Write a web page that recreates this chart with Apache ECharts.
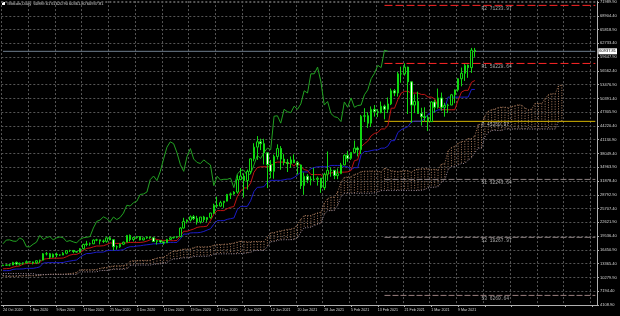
<!DOCTYPE html>
<html><head><meta charset="utf-8">
<script src="https://cdn.jsdelivr.net/npm/echarts@6/dist/echarts.min.js"></script>
<style>html,body{margin:0;padding:0;background:#000}#c{width:620px;height:316px}</style>
</head><body><div id="c"></div><script>
// ---------- data ----------
const startDate = [2020, 9, 24];          // 24 Oct 2020 (month 0-based)
const totalBars = 178;                     // bars visible incl. right shift
const lastLabelBar = 141;                  // no date labels past the last real bar
const titleText = '#Bitcoin,Daily  60989.61 61620.90 60361.80 60937.81';
const lastPrice = 60937.81;

const priceTicks = [4108.90, 7194.40, 10279.90, 13365.40, 16450.90, 19536.40, 22621.90, 25707.40,
  28792.90, 31878.40, 34963.90, 38049.40, 41134.90, 44220.40, 47305.90, 50391.40, 53476.90,
  56562.40, 59647.90, 62733.40, 65818.90, 68904.40];

const opens = [12930,13030,13070,13070,13650,13270,13450,13560,13800,13760,
13550,14030,14150,15590,15580,14830,15480,15330,15300,15700,
16290,16330,16070,15960,16730,17660,17800,17820,18660,18700,
18420,18370,19150,18740,17160,17140,17730,18180,19700,18770,
19220,19440,18690,19150,19360,19170,18330,18550,18250,18030,
18810,19170,19270,19440,21350,22830,23140,23860,23480,22740,
23820,23250,23720,24700,26460,26270,27040,27370,28880,28990,
29410,32200,33000,31990,34040,36860,39480,40670,40240,38200,
35550,34050,37390,39150,36800,36050,35800,36620,36000,35480,
30850,32950,32100,32280,32260,32520,30400,33400,34270,34300,
33100,33530,35500,37660,36950,38290,39250,38900,46400,46500,
44850,47950,47400,47200,48650,47950,49150,52100,51600,55900,
55900,57400,54100,48900,49700,47000,46300,46100,45200,49600,
48400,50500,48400,48800,48900,51200,52300,54800,56000,57800,
57300,61200];
const highs = [13150,13180,13250,13780,13840,13620,13660,14090,13900,13820,
14060,14250,15750,15970,15770,15650,15850,15450,15960,16330,
16480,16340,16140,16880,17850,18480,18110,18800,18950,18700,
18770,19400,19490,18900,17460,17890,18320,19800,19920,19300,
19570,19520,19170,19420,19400,19270,18650,18560,18270,18930,
19400,19330,19540,21540,23650,23260,24170,24260,24080,23820,
24080,23790,24770,26800,28400,27450,27370,28990,29300,29600,
33300,34800,33600,34450,36940,40350,41950,41360,41350,38260,
36600,37800,40100,39700,37900,36800,37400,37850,36400,35600,
33800,33450,32950,34850,32900,32540,33750,38500,34900,34300,
34700,35950,37850,38650,38300,40950,39600,46700,48200,47300,
48600,48900,48000,49700,49000,50600,52600,52500,56300,57500,
58260,57500,54200,51300,51900,48300,48400,46600,49800,50100,
52600,51700,49400,49200,51400,52400,54900,57300,58100,58000,
61700,61700];
const lows = [12890,12900,12800,13050,12950,12980,13130,13440,13620,13210,
13290,13530,14090,15210,14420,14710,14830,15090,15280,15460,
15990,15710,15820,15900,16560,17270,17380,17760,18410,17680,
18010,18080,18610,16330,16500,16910,17530,18180,18330,18360,
18940,18580,18580,18920,18920,18220,17650,17940,17610,18010,
18730,19000,19060,19300,21240,22370,22800,23130,22120,22380,
22700,22720,23430,24500,25850,26120,25890,27330,27850,28800,
29050,32050,28200,29950,33400,36300,36620,38800,35600,30300,
32500,32400,36700,34400,35400,33900,34800,35900,33400,30100,
28800,31400,30900,31900,30850,29240,29850,31950,32850,32300,
32300,33430,35400,36200,36600,38150,37400,37950,45100,43800,
44000,46300,46200,47050,45700,47100,48900,50900,50800,53900,
55500,46900,44900,47100,47000,44300,45100,43100,45100,47200,
48100,47600,46300,47100,48900,49300,51900,53100,54300,55000,
56100,59700];
const closes = [13030,13070,13070,13650,13270,13450,13560,13800,13760,13550,
14030,14150,15590,15580,14830,15480,15330,15300,15700,16290,
16330,16070,15960,16730,17660,17800,17820,18660,18700,18420,
18370,19150,18740,17160,17140,17730,18180,19700,18770,19220,
19440,18690,19150,19360,19170,18330,18550,18250,18030,18810,
19170,19270,19440,21350,22830,23140,23860,23480,22740,23820,
23250,23720,24700,26460,26270,27040,27370,28880,28990,29410,
32200,33000,31990,34040,36860,39480,40670,40240,38200,35550,
34050,37390,39150,36800,36050,35800,36620,36000,35480,30850,
32950,32100,32280,32260,32520,30400,33400,34270,34300,33100,
33530,35500,37660,36950,38290,39250,38900,46400,46500,44850,
47950,47400,47200,48650,47950,49150,52100,51600,55900,55900,
57400,54100,48900,49700,47000,46300,46100,45200,49600,48400,
50500,48400,48800,48900,51200,52300,54800,56000,57800,57300,
61200,60937.81];

// Ichimoku lines
const tenkan = [12215,12250,12295,12600,12760,12870,13265,13405,13445,13445,
13445,13600,14350,14475,14550,14590,14590,14590,14630,14930,
15285,15450,15450,15795,16340,16785,16880,17130,17330,17330,
17385,17650,18025,17910,17910,17910,17910,18065,18125,18125,
18125,18125,18210,18415,18725,19050,18785,18610,18590,18565,
18515,18515,18575,19575,20630,20630,20890,21135,21495,21630,
21660,21780,23005,24460,25260,25260,25260,25685,26000,26160,
28365,29650,30325,30345,31415,33840,34900,35075,35075,35075,
35075,35950,36125,36125,36125,35830,35825,35200,36250,35100,
34450,34250,33350,33325,33325,33325,32600,33650,33650,33870,
33870,33870,33870,33945,34250,36450,36625,39500,40250,40815,
42000,42550,42750,43550,43550,44275,48200,48200,50150,51600,
51980,51980,51580,51580,51580,51280,51280,50680,50680,50300,
48650,47850,47850,47850,47850,47850,50000,51800,52200,52200,
54000,54400];
const kijun = [11800,11800,11825,12090,12170,12170,12190,12315,12325,12325,
12460,12650,13475,13585,13600,13600,13600,13600,13635,13835,
13950,14080,14190,14785,15285,15640,15640,15800,15950,15950,
15965,16265,16350,16350,16350,16390,16510,16945,17170,17170,
17315,17375,17505,17600,17690,17815,17815,17870,17910,18125,
18125,18125,18125,18935,19990,19990,20250,20295,20295,20380,
20585,20895,21190,22205,23005,23005,23005,23300,23455,23605,
25455,26205,26205,26205,27475,29540,30475,30505,30625,31595,
32035,32035,32035,32035,32165,32325,32335,32690,33225,33900,
33920,33920,34640,34900,35075,35075,35075,35075,35375,35375,
35375,35375,35080,35075,34450,34875,34875,37750,38500,38500,
38700,38850,38850,39250,39250,39700,40920,40920,42770,43370,
43750,44055,45105,45280,45280,45280,45845,46830,47230,47430,
47830,47830,48105,50680,50680,50680,50680,50680,50680,50680,
52400,52400];
const spanA = [10648,10538,10530,10530,10545,10595,10638,10668,10668,10658,
10670,10705,10875,10900,11010,11020,11020,11025,11025,11093,
11148,11250,11400,12008,12008,12008,
12008,12025,12060,12345,12465,12520,12728,12860,12885,12885,
12953,13125,13913,14030,14075,14095,14095,14095,14133,14383,
14618,14765,14820,15290,15813,16213,16260,16465,16640,16640,
16675,16958,17188,17130,17130,17150,17210,17505,17648,17648,
17720,17750,17858,18008,18208,18433,18300,18240,18250,18345,
18320,18320,18350,19255,20310,20310,20570,20715,20895,21005,
21123,21338,22098,23333,24133,24133,24133,24493,24728,24883,
26910,27928,28265,28275,29445,31690,32688,32790,32850,33335,
33555,33993,34080,34080,34145,34078,34080,33945,34738,34500,
34185,34085,33995,34113,34200,34200,33838,34363,34513,34623,
34623,34623,34475,34510,34350,35663,35750,38625,39375,39658,
40350,40700,40800,41400,41400,41988,44560,44560,46460,47485,
47865,48018,48343,48430,48430,48280,48563,48755,48955,48865,
48240,47840,47978,49265,49265,49265,50340,51240,51440,51440,
53200,53400];
const spanB = [11160,11160,11160,11160,11160,11160,11160,11160,11160,11160,
10950,10950,10950,10950,10950,10950,10950,10950,10950,10950,
10950,10950,10950,11525,11525,11525,
11525,11525,11550,11815,11845,11845,11930,12115,12115,12115,
12115,12195,12945,13055,13055,13055,13055,13055,13055,13235,
13310,13340,13440,13640,14125,14440,14440,14600,14675,14675,
14725,14950,15015,15015,15025,15025,15160,15425,15560,15560,
15575,15575,15575,15575,15610,15630,15670,15800,15910,16305,
16320,16360,16360,17170,18300,18300,18575,18695,18735,18735,
18735,18775,19150,20445,21410,21410,21555,21910,22195,22440,
24380,25255,25255,25310,26420,28340,29140,29140,29140,29140,
29140,29140,29140,29140,29140,29225,29430,29740,29780,29780,
29780,29780,29780,29780,29780,29780,29780,29780,29780,29780,
29980,30340,30475,30505,30625,31595,32035,34410,35160,35160,
35490,35800,35810,36565,37100,38225,39245,39245,41815,42675,
43230,43230,43230,43230,43530,43530,43530,43530,43530,43530,
43530,43530,43530,43530,43530,43530,43530,43530,43530,43530,
45250,45250];
const chikouShift = 26;

const pivotNames = ['R2', 'R1', 'P', 'S1', 'S2', 'S3'];
const pivotValues = [71233.97, 58228.64, 45250.97, 32243.64, 19267.97, 6260.64];
const pivotStartBar = 114;
const pivotLabelBar = 143;

// ---------- build ----------
const monthNames = ['Jan','Feb','Mar','Apr','May','Jun','Jul','Aug','Sep','Oct','Nov','Dec'];
const categories = [];
for (let i = 0; i < totalBars; i++) {
  const d = new Date(Date.UTC(startDate[0], startDate[1], startDate[2] + i));
  categories.push(d.getUTCDate() + ' ' + monthNames[d.getUTCMonth()] + ' ' + d.getUTCFullYear());
}
const candleData = opens.map((o, i) => [o, closes[i], lows[i], highs[i]]);
const chikou = closes.slice(chikouShift);
const cloudData = spanA.map((a, i) => [i, a, spanB[i]]);

const pivotStyles = {
  R2: {color: '#ff2626', type: [8, 3]}, R1: {color: '#ff2626', type: [8, 3]},
  P: {color: '#d4b400', type: 'solid'},
  S1: {color: '#8c8080', type: [6, 2]}, S2: {color: '#8c8080', type: [6, 2]}, S3: {color: '#9c8080', type: [6, 2]}
};
const pivotSeries = pivotNames.map((n, k) => ({
  type: 'line', name: 'pivot' + n, z: 3, silent: true, showSymbol: false, symbol: 'none',
  data: [[pivotStartBar, pivotValues[k]], [totalBars - 1, pivotValues[k]]],
  lineStyle: {color: pivotStyles[n].color, type: pivotStyles[n].type, width: 1}
}));

const cloudUp = '#a87a5c', cloudDown = '#9c8c9c';

const chart = echarts.init(document.getElementById('c'), null, {renderer: 'canvas'});
chart.setOption({
  backgroundColor: '#000',
  animation: false,
  grid: {left: 0, right: 23, top: 0, bottom: 11, containLabel: false},
  xAxis: {
    type: 'category', data: categories, boundaryGap: true,
    axisLine: {show: true, lineStyle: {color: '#b0b0b0', width: 1}},
    axisTick: {show: true, interval: 7, alignWithLabel: true, length: 2, lineStyle: {color: '#b0b0b0'}},
    axisLabel: {interval: 7, align: 'left', color: '#d8d8d8', fontSize: 3.6, margin: 3, fontFamily: 'Liberation Sans',
      formatter: (v, idx) => idx <= lastLabelBar ? v : ''},
    splitLine: {show: true, interval: 7, lineStyle: {color: '#555555', type: [2, 2], width: 1}}
  },
  yAxis: {
    type: 'value', position: 'right', scale: true,
    min: priceTicks[0], max: 72200, interval: priceTicks[1] - priceTicks[0],
    axisLine: {show: true, lineStyle: {color: '#b0b0b0', width: 1}},
    axisTick: {show: true, length: 2, lineStyle: {color: '#b0b0b0'}},
    axisLabel: {color: '#d8d8d8', fontSize: 4, margin: 3, showMaxLabel: false, fontFamily: 'Liberation Sans',
      formatter: v => v.toFixed(2)},
    splitLine: {show: true, lineStyle: {color: '#555555', type: [2, 2], width: 1}}
  },
  graphic: [
    {type: 'rect', left: 2, top: 2, shape: {width: 3, height: 3}, style: {fill: '#ffffff'}},
    {type: 'text', left: 7, top: 1.5, style: {text: titleText, fill: '#d8d8d8', font: '4px "Liberation Sans"'}}
  ],
  series: [
    {
      type: 'custom', name: 'cloud', z: 1, silent: true,
      renderItem: (params, api) => {
        const p1 = api.coord([api.value(0), api.value(1)]);
        const p2 = api.coord([api.value(0), api.value(2)]);
        const up = api.value(1) >= api.value(2);
        return {type: 'line', shape: {x1: p1[0], y1: p1[1], x2: p2[0], y2: p2[1]},
          style: {stroke: up ? cloudUp : cloudDown, lineWidth: 1, lineDash: [1, 1.5]}};
      },
      encode: {x: 0, y: [1, 2]}, data: cloudData
    },
    {type: 'line', name: 'spanA', data: spanA, z: 2, showSymbol: false, silent: true,
      lineStyle: {color: cloudUp, width: 1, type: [1, 1.5]}},
    {type: 'line', name: 'spanB', data: spanB, z: 2, showSymbol: false, silent: true,
      lineStyle: {color: cloudDown, width: 1, type: [1, 1.5]}},
    ...pivotSeries,
    {type: 'scatter', name: 'pivotLabels', z: 4, silent: true, symbolSize: 0,
      data: pivotValues.map((v, k) => [pivotLabelBar, v, pivotNames[k]]),
      label: {show: true, position: 'right', distance: 0, offset: [0, 3], color: '#d0d0d0', fontSize: 4.6,
        fontFamily: 'Liberation Mono', formatter: p => p.value[2] + ' ' + p.value[1].toFixed(2)}},
    {type: 'line', name: 'bid', z: 4, silent: true, showSymbol: false, symbol: 'none',
      data: [[0, lastPrice], [totalBars - 1, lastPrice]],
      lineStyle: {color: '#6c7c8c', type: 'solid', width: 1},
      endLabel: {show: true, distance: 3, formatter: lastPrice.toFixed(2), backgroundColor: '#ffffff',
        color: '#000', fontSize: 4, padding: [1, 1], fontFamily: 'Liberation Sans'}},
    {type: 'line', name: 'kijun', data: kijun, z: 5, showSymbol: false, silent: true,
      lineStyle: {color: '#1c1cc8', width: 1}},
    {type: 'line', name: 'tenkan', data: tenkan, z: 5, showSymbol: false, silent: true,
      lineStyle: {color: '#c01414', width: 1}},
    {type: 'line', name: 'chikou', data: chikou, z: 5, showSymbol: false, silent: true,
      lineStyle: {color: '#22a222', width: 1}},
    {type: 'candlestick', name: 'Bitcoin', data: candleData, z: 6, barWidth: 2, silent: true,
      itemStyle: {color: '#000', color0: '#fff', borderColor: '#10d810', borderColor0: '#10d810', borderWidth: 1}}
  ]
});
</script></body></html>
